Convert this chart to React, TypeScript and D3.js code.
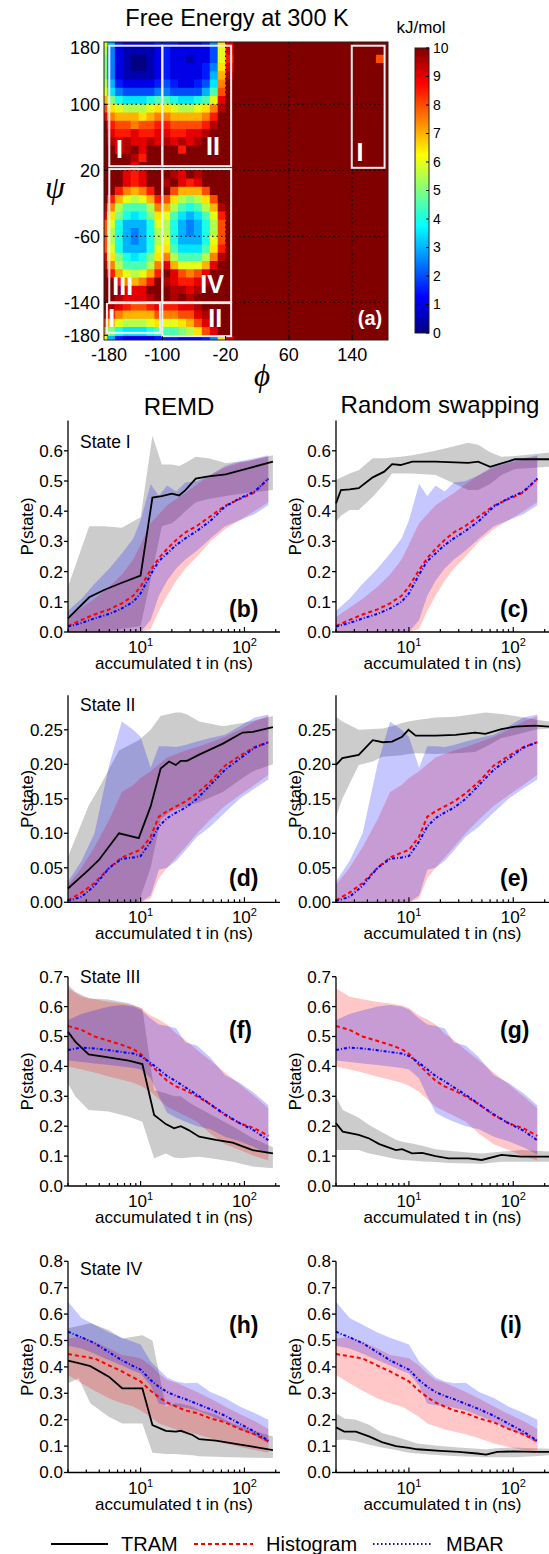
import React from 'react';
import * as d3 from 'd3';

const W = 549;
const H = 1554;
const SANS = '"Liberation Sans", Arial, Helvetica, sans-serif';

// ---------- free energy surface at 300 K (kJ/mol), 10 degree bins ----------
// rows: psi 180 -> -180, columns: phi -180 -> 180
// each character is one bin, value = index in FE_LEVELS / 2  ('0' = 0 ... 'k' = 10)
const FE_LEVELS = '0123456789abcdefghijk';
const FE_ROWS = [
  'c63222233322235dik' + 'kkkkkkkkkkkkkkkkkk',
  'b52111123222224cik' + 'kkkkkkkkkkkkkkkkkk',
  'a52100123221224chk' + 'kkkkkkkkkkkkkkkkkg',
  'a52100123222235dik' + 'kkkkkkkkkkkkkkkkkk',
  'a52111123222236ejk' + 'kkkkkkkkkkkkkkkkkk',
  'b63222234322347fkk' + 'kkkkkkkkkkkkkkkkkk',
  'c75444455444469gkk' + 'kkkkkkkkkkkkkkkkkk',
  'ea877789987789cikk' + 'kkkkkkkkkkkkkkkkkk',
  'gdcbbbcddcbbcdfjkk' + 'kkkkkkkkkkkkkkkkkk',
  'ifeeedeffeeeefhkkk' + 'kkkkkkkkkkkkkkkkkk',
  'khggfgghhgggghjkkk' + 'kkkkkkkkkkkkkkkkkk',
  'kihhihhiihhiijkkkk' + 'kkkkkkkkkkkkkkkkkk',
  'kjijiijijijijkkkkk' + 'kkkkkkkkkkkkkkkkkk',
  'kkijkikkkkhkkkkkkk' + 'kkkkkkkkkkkkkkkkkk',
  'kkkkjhkkkkkkkkkkkk' + 'kkkkkkkkkkkkkkkkkk',
  'kkkkikkkkkkkkkkkkk' + 'kkkkkkkkkkkkkkkkkk',
  'kkkihikkkjikjkkkkk' + 'kkkkkkkkkkkkkkkkkk',
  'kkkihikkjkihikkkkk' + 'kkkkkkkkkkkkkkkkkk',
  'kkhfefhkkgeeegkkkk' + 'kkkkkkkkkkkkkkkkkk',
  'khecbcehgdbabdgkkk' + 'kkkkkkkkkkkkkkkkkk',
  'jfb999bfeb989bejkk' + 'kkkkkkkkkkkkkkkkkk',
  'ida878adc97679chkk' + 'kkkkkkkkkkkkkkkkkk',
  'gc86668cb86568bgkk' + 'kkkkkkkkkkkkkkkkkk',
  'gb86568bb86568bgkk' + 'kkkkkkkkkkkkkkkkkk',
  'gb86568bc86668cgkk' + 'kkkkkkkkkkkkkkkkkk',
  'gc86668cd97779dhkk' + 'kkkkkkkkkkkkkkkkkk',
  'ida878adfb999bfjkk' + 'kkkkkkkkkkkkkkkkkk',
  'jfb999bfieccceikkk' + 'kkkkkkkkkkkkkkkkkk',
  'khecbcehkigfgikkkk' + 'kkkkkkkkkkkkkkkkkk',
  'kkhfefhkjihhijkkkk' + 'kkkkkkkkkkkkkkkkkk',
  'kkkiiikkkjjijkkkkk' + 'kkkkkkkkkkkkkkkkkk',
  'kkjiiijkkjkjkkkkkk' + 'kkkkkkkkkkkkkkkkkk',
  'kjihgghihhiijkkkkk' + 'kkkkkkkkkkkkkkkkkk',
  'jhfeeeegffggijkkkk' + 'kkkkkkkkkkkkkkkkkk',
  'gecbbbcdccdegikkkk' + 'kkkkkkkkkkkkkkkkkk',
  'ea87778999abdgikkk' + 'kkkkkkkkkkkkkkkkkk',
];

const PHI_TICKS = [-180, -100, -20, 60, 140];
const PSI_TICKS = [180, 100, 20, -60, -140, -180];
const PHI_GRID = [-100, -20, 60, 140];
const PSI_GRID = [100, 20, -60, -140];
const CBAR_TICKS = [0, 1, 2, 3, 4, 5, 6, 7, 8, 9, 10];

// state regions drawn as white boxes (phi range, psi range)
const BOX_PHI = [[-167, -100], [-100, -13], [-167, -100], [-100, -13], [-170, -103], [-100, -13], [139.5, 181]];
const BOX_PSI = [[25, 171], [25, 171], [-140, 21.5], [-140, 21.5], [-177, -141], [-181, -141], [23, 171]];
const BOX_LABELS = ['I', 'II', 'III', 'IV', 'I', 'II', 'I'];
const BOX_LABEL_PHI = [-154, -36, -150, -37, -164, -33, 150];
const BOX_LABEL_PSI = [34.5, 38.5, -131, -129, -169.5, -169.5, 31.5];

// ---------- convergence curves ----------
const T_EST = [2, 2.7, 3.6, 5, 6.6, 8.5, 10, 12.5, 15, 18, 22, 27, 35, 47, 65, 90, 125, 170];

// State I
const HIST_I = [.02, .04, .058, .075, .095, .12, .15, .205, .245, .275, .305, .33, .352, .383, .418, .44, .462, .507];
const HIST_I_LO = [0, 0, 0, 0, 0, 0, 0, .01, .07, .12, .17, .21, .25, .3, .34, .37, .4, .43];
const HIST_I_HI = [.05, .08, .11, .15, .19, .24, .29, .36, .39, .42, .44, .46, .49, .52, .545, .56, .57, .58];
const MBAR_I = [.018, .03, .045, .06, .078, .1, .128, .19, .235, .26, .288, .31, .335, .368, .415, .443, .465, .508];
const MBAR_I_LO = [0, 0, 0, 0, 0, 0, 0, .04, .12, .17, .21, .24, .27, .31, .35, .37, .39, .42];
const MBAR_I_HI = [.07, .11, .16, .21, .26, .31, .37, .49, .45, .485, .465, .495, .5, .52, .55, .565, .575, .585];
const REMD_I_T = [2, 3.2, 4.5, 6.6, 10, 13, 16, 20, 23.5, 27, 34, 45, 66, 104, 188];
const REMD_I = [.045, .115, .14, .163, .187, .445, .45, .458, .452, .47, .508, .515, .522, .54, .564];
const REMD_I_LO = [0, 0, 0, .01, .02, .2, .35, .36, .38, .4, .43, .44, .45, .46, .47];
const REMD_I_HI = [.15, .35, .35, .345, .38, .65, .555, .555, .55, .56, .58, .575, .56, .565, .585];
const RS_I_T = [2, 2.23, 2.7, 3.3, 4.5, 5.8, 6.9, 8.3, 10.8, 18, 37, 46, 60, 77, 104, 220];
const RS_I = [.426, .47, .472, .476, .512, .531, .556, .553, .564, .564, .56, .564, .547, .558, .572, .572];
const RS_I_LO = [.365, .385, .404, .404, .448, .49, .525, .525, .525, .52, .47, .47, .49, .52, .54, .547];
const RS_I_HI = [.503, .512, .525, .536, .575, .575, .578, .58, .585, .6, .627, .62, .595, .58, .583, .594];

// State II
const HIST_II = [.003, .014, .028, .05, .065, .072, .076, .095, .124, .132, .139, .146, .158, .175, .198, .212, .225, .232];
const HIST_II_LO = [0, 0, 0, 0, 0, 0, 0, .005, .035, .05, .065, .08, .1, .12, .14, .155, .17, .185];
const HIST_II_HI = [.025, .05, .08, .12, .16, .17, .18, .19, .2, .21, .215, .22, .225, .232, .24, .25, .262, .27];
const MBAR_II = [.002, .008, .024, .05, .063, .065, .067, .088, .11, .122, .13, .137, .15, .17, .192, .208, .224, .232];
const MBAR_II_LO = [0, 0, 0, 0, 0, 0, 0, .01, .047, .05, .06, .075, .095, .11, .13, .15, .165, .178];
const MBAR_II_HI = [.03, .06, .1, .2, .262, .25, .24, .195, .226, .226, .225, .228, .233, .238, .243, .255, .268, .272];
const REMD_II_T = [2, 3.16, 3.95, 6.2, 9.6, 12.5, 15.6, 18.8, 21.8, 24.4, 28, 36.7, 62, 96, 121, 188];
const REMD_II = [.02, .047, .061, .1, .093, .139, .194, .204, .199, .205, .205, .214, .23, .246, .247, .254];
const REMD_II_LO = [0, 0, 0, 0, 0, .05, .12, .13, .135, .137, .14, .145, .16, .18, .19, .2];
const REMD_II_HI = [.066, .14, .165, .22, .235, .25, .27, .273, .275, .275, .272, .262, .255, .26, .263, .27];
const RS_II_T = [2, 2.3, 3.3, 4.5, 5.6, 6.9, 8.6, 9.9, 11.6, 18, 28, 43, 54, 77, 104, 161, 220];
const RS_II = [.199, .209, .2135, .235, .232, .233, .24, .25, .2415, .2415, .2425, .246, .244, .251, .2546, .256, .2546];
const RS_II_LO = [.124, .15, .199, .204, .211, .212, .213, .215, .216, .215, .216, .218, .225, .238, .2425, .25, .252];
const RS_II_HI = [.269, .262, .25, .251, .252, .255, .26, .262, .264, .268, .269, .273, .275, .273, .27, .265, .262];

// State III
const HIST_III = [.535, .522, .5, .485, .472, .458, .442, .405, .378, .352, .333, .32, .3, .273, .237, .21, .193, .168];
const HIST_III_LO = [.4, .39, .38, .365, .355, .345, .335, .315, .29, .265, .25, .235, .215, .175, .14, .12, .1, .085];
const HIST_III_HI = [.661, .633, .625, .615, .61, .604, .595, .57, .557, .54, .51, .488, .455, .42, .38, .34, .3, .26];
const MBAR_III = [.455, .463, .46, .454, .448, .443, .435, .412, .39, .368, .35, .33, .305, .273, .24, .21, .185, .153];
const MBAR_III_LO = [.42, .415, .41, .405, .4, .395, .39, .36, .3, .245, .228, .215, .2, .19, .165, .15, .13, .105];
const MBAR_III_HI = [.555, .575, .588, .6, .605, .6, .59, .56, .54, .535, .528, .48, .47, .43, .37, .345, .31, .27];
const REMD_III_T = [2, 2.35, 3.16, 4.9, 7.7, 10.4, 13.5, 17.5, 21, 24.4, 29, 36.7, 53, 77, 120, 188];
const REMD_III = [.516, .483, .44, .43, .419, .408, .2375, .207, .193, .2, .187, .165, .154, .145, .12, .109];
const REMD_III_LO = [.343, .3, .254, .249, .232, .215, .0925, .109, .095, .0925, .095, .098, .09, .081, .065, .059];
const REMD_III_HI = [.672, .65, .628, .624, .611, .594, .32, .31, .3, .3, .28, .26, .23, .2, .16, .13];
const RS_III_T = [2, 2.32, 3.3, 4.16, 5.2, 7.5, 8.6, 10.7, 13.4, 18, 24, 37, 50, 77, 120, 161, 220];
const RS_III = [.21, .182, .171, .159, .14, .12, .123, .109, .111, .1, .0925, .0925, .087, .104, .098, .098, .098];
const RS_III_LO = [.12, .12, .12, .109, .102, .09, .087, .085, .082, .08, .077, .075, .074, .081, .081, .081, .081];
const RS_III_HI = [.299, .254, .228, .204, .185, .155, .148, .142, .135, .123, .118, .112, .109, .115, .12, .118, .115];

// State IV
const HIST_IV = [.449, .44, .432, .405, .383, .36, .345, .31, .285, .265, .25, .235, .225, .205, .19, .165, .145, .118];
const HIST_IV_LO = [.369, .338, .31, .28, .262, .25, .235, .21, .186, .175, .163, .155, .145, .13, .11, .097, .085, .075];
const HIST_IV_HI = [.508, .514, .495, .47, .445, .438, .433, .405, .375, .35, .34, .325, .305, .28, .25, .222, .195, .165];
const MBAR_IV = [.533, .512, .49, .455, .425, .403, .39, .35, .325, .305, .29, .278, .26, .24, .215, .185, .155, .12];
const MBAR_IV_LO = [.48, .47, .45, .425, .405, .385, .375, .33, .26, .255, .25, .245, .235, .215, .19, .165, .14, .11];
const MBAR_IV_HI = [.647, .585, .56, .53, .51, .495, .485, .42, .39, .36, .345, .338, .34, .305, .282, .25, .225, .2];
const REMD_IV_T = [2, 2.53, 3.28, 4.94, 6.65, 10.4, 13, 17.5, 21.8, 24.4, 31.6, 36.7, 53, 77, 120, 188];
const REMD_IV = [.424, .414, .403, .363, .319, .319, .18, .158, .155, .158, .142, .126, .121, .11, .098, .085];
const REMD_IV_LO = [.338, .357, .262, .211, .186, .186, .075, .07, .07, .068, .065, .062, .06, .058, .056, .055];
const REMD_IV_HI = [.546, .555, .565, .54, .508, .52, .5, .25, .262, .26, .25, .237, .22, .186, .16, .136];
const RS_IV_T = [2, 2.4, 3.1, 4.2, 5.5, 7.5, 10, 12, 20, 30, 45, 55, 70, 100, 160, 220];
const RS_IV = [.171, .155, .155, .136, .115, .1, .093, .088, .082, .078, .072, .068, .078, .08, .078, .078];
const RS_IV_LO = [.123, .125, .118, .105, .095, .085, .075, .072, .065, .062, .06, .058, .058, .058, .062, .065];
const RS_IV_HI = [.224, .205, .2, .18, .15, .135, .12, .11, .1, .095, .09, .088, .092, .095, .092, .09];

const STATE_NAMES = ['State I', 'State II', 'State III', 'State IV'];
const PANEL_LETTERS = [['(b)', '(c)'], ['(d)', '(e)'], ['(f)', '(g)'], ['(h)', '(i)']];
const Y_TICKS = [
  [0, 0.1, 0.2, 0.3, 0.4, 0.5, 0.6],
  [0, 0.05, 0.1, 0.15, 0.2, 0.25],
  [0, 0.1, 0.2, 0.3, 0.4, 0.5, 0.6, 0.7],
  [0, 0.1, 0.2, 0.3, 0.4, 0.5, 0.6, 0.7, 0.8],
];
const Y_MAX = [0.7, 0.3, 0.7, 0.8];
const X_DOMAIN = [2, 220];
const LEGEND = ['TRAM', 'Histogram', 'MBAR'];

// ---------- build series tables ----------
type Band = { t: number[]; m: number[]; lo: number[]; hi: number[] };
const band = (t: number[], m: number[], lo: number[], hi: number[]): Band => ({ t, m, lo, hi });

const HIST = [
  band(T_EST, HIST_I, HIST_I_LO, HIST_I_HI),
  band(T_EST, HIST_II, HIST_II_LO, HIST_II_HI),
  band(T_EST, HIST_III, HIST_III_LO, HIST_III_HI),
  band(T_EST, HIST_IV, HIST_IV_LO, HIST_IV_HI),
];
const MBAR = [
  band(T_EST, MBAR_I, MBAR_I_LO, MBAR_I_HI),
  band(T_EST, MBAR_II, MBAR_II_LO, MBAR_II_HI),
  band(T_EST, MBAR_III, MBAR_III_LO, MBAR_III_HI),
  band(T_EST, MBAR_IV, MBAR_IV_LO, MBAR_IV_HI),
];
const TRAM = [
  [band(REMD_I_T, REMD_I, REMD_I_LO, REMD_I_HI), band(RS_I_T, RS_I, RS_I_LO, RS_I_HI)],
  [band(REMD_II_T, REMD_II, REMD_II_LO, REMD_II_HI), band(RS_II_T, RS_II, RS_II_LO, RS_II_HI)],
  [band(REMD_III_T, REMD_III, REMD_III_LO, REMD_III_HI), band(RS_III_T, RS_III, RS_III_LO, RS_III_HI)],
  [band(REMD_IV_T, REMD_IV, REMD_IV_LO, REMD_IV_HI), band(RS_IV_T, RS_IV, RS_IV_LO, RS_IV_HI)],
];

const STYLES = {
  tram: { stroke: '#000', dash: undefined as string | undefined, fill: 'rgba(110,110,110,0.35)' },
  hist: { stroke: '#ff0000', dash: '4,3', fill: 'rgba(255,0,0,0.22)' },
  mbar: { stroke: '#0000ff', dash: '3,2,1,2', fill: 'rgba(0,0,255,0.22)' },
};

// matlab style jet
function jet(t: number) {
  const c = (v: number) => Math.round(255 * Math.max(0, Math.min(1, 1.5 - Math.abs(v))));
  return `rgb(${c(4 * t - 3)},${c(4 * t - 2)},${c(4 * t - 1)})`;
}
const feColor = d3.scaleSequential(jet).domain([0, 10]);
const feValue = (ch: string) => FE_LEVELS.indexOf(ch) / 2;

// ---------- layout ----------
const COL_RANGES = [[68, 280], [336, 549]];
const ROW_RANGES = [[632, 420.6], [902.3, 695.3], [1186, 976.7], [1472.5, 1261.3]];

function Heatmap() {
  const px = d3.scaleLinear().domain([-173.7, 185.3]).range([104, 388]);
  const py = d3.scaleLinear().domain([-185.7, 175.5]).range([340, 42]);
  const cells: JSX.Element[] = [];
  FE_ROWS.forEach((row, i) => {
    const shifts = i === 0 ? [0, -360] : [0];
    shifts.forEach((s) => {
      row.split('').forEach((ch, j) => {
        const x0 = px(-180 + 10 * j);
        const x1 = px(-170 + 10 * j);
        const y0 = py(180 - 10 * i + s);
        const y1 = py(170 - 10 * i + s);
        cells.push(
          <rect key={`${i}-${j}-${s}`} x={x0} y={y0} width={x1 - x0 + 0.6} height={y1 - y0 + 0.6}
            fill={feColor(feValue(ch))} />
        );
      });
    });
  });
  const cb = d3.scaleLinear().domain([0, 10]).range([333, 48]);
  const gradStops = [0, 0.125, 0.375, 0.625, 0.875, 1];
  return (
    <g>
      <defs>
        <clipPath id="heatClip"><rect x={104} y={42} width={284} height={298} /></clipPath>
        <linearGradient id="jetGrad" x1="0" y1="1" x2="0" y2="0">
          {gradStops.map((s) => <stop key={s} offset={s} stopColor={jet(s)} />)}
        </linearGradient>
      </defs>
      <text x={237} y={26} textAnchor="middle" fontSize={23.5} fontFamily={SANS}>Free Energy at 300 K</text>
      <rect x={104} y={42} width={284} height={298} fill={feColor(10)} />
      <g clipPath="url(#heatClip)">{cells}</g>
      {PHI_GRID.map((v) => (
        <line key={`gx${v}`} x1={px(v)} x2={px(v)} y1={42} y2={340} stroke="#000" strokeWidth={1} strokeDasharray="1.5,3" />
      ))}
      {PSI_GRID.map((v) => (
        <line key={`gy${v}`} x1={104} x2={388} y1={py(v)} y2={py(v)} stroke="#000" strokeWidth={1} strokeDasharray="1.5,3" />
      ))}
      {BOX_PHI.map((p, k) => {
        const x0 = px(p[0]);
        const x1 = px(p[1]);
        const y0 = py(BOX_PSI[k][1]);
        const y1 = py(BOX_PSI[k][0]);
        return <rect key={`b${k}`} x={x0} y={y0} width={x1 - x0} height={y1 - y0} fill="none" stroke="#eeeeee" strokeWidth={2} />;
      })}
      {BOX_LABELS.map((l, k) => (
        <text key={`bl${k}`} x={px(BOX_LABEL_PHI[k])} y={py(BOX_LABEL_PSI[k])} textAnchor="middle"
          fontSize={25} fontWeight="bold" fill="#fff" fontFamily={SANS}>{l}</text>
      ))}
      <text x={px(162.5)} y={py(-167.5)} textAnchor="middle" fontSize={20} fontWeight="bold" fill="#fff" fontFamily={SANS}>(a)</text>
      <rect x={104} y={42} width={284} height={298} fill="none" stroke="#222" strokeWidth={1} />
      {PHI_TICKS.map((v) => {
        const x = Math.max(px(v), 109);
        return (
          <g key={`tx${v}`}>
            {px(v) >= 104 && <line x1={px(v)} x2={px(v)} y1={340} y2={336} stroke="#000" />}
            <text x={x} y={361} textAnchor="middle" fontSize={18} fontFamily={SANS}>{v}</text>
          </g>
        );
      })}
      {PSI_TICKS.map((v) => {
        const y = Math.min(Math.max(py(v), 48), 336);
        return (
          <g key={`ty${v}`}>
            {py(v) >= 42 && py(v) <= 340 && <line x1={104} x2={108} y1={py(v)} y2={py(v)} stroke="#000" />}
            <text x={100} y={y} dy="0.35em" textAnchor="end" fontSize={18} fontFamily={SANS}>{v}</text>
          </g>
        );
      })}
      <text x={55} y={198} textAnchor="middle" fontSize={32} fontStyle="italic" fontFamily='"Liberation Serif", "DejaVu Serif", serif'>ψ</text>
      <text x={262} y={386} textAnchor="middle" fontSize={31} fontStyle="italic" fontFamily='"Liberation Serif", "DejaVu Serif", serif'>ϕ</text>
      {/* colour bar */}
      <text x={421} y={33} textAnchor="middle" fontSize={17} fontFamily={SANS}>kJ/mol</text>
      <rect x={415} y={48} width={14} height={285} fill="url(#jetGrad)" stroke="#222" strokeWidth={1} />
      {CBAR_TICKS.map((v) => (
        <g key={`cb${v}`}>
          <line x1={426} x2={429} y1={cb(v)} y2={cb(v)} stroke="#000" />
          <text x={433} y={cb(v)} dy="0.35em" fontSize={14} fontFamily={SANS}>{v}</text>
        </g>
      ))}
    </g>
  );
}

function Panel({ r, c }: { r: number; c: number }) {
  const x = d3.scaleLog().domain(X_DOMAIN).range(COL_RANGES[c]);
  const y = d3.scaleLinear().domain([0, Y_MAX[r]]).range(ROW_RANGES[r]);
  const areaOf = (b: Band) =>
    d3.area<number>().x((t) => x(t)).y0((_, i) => y(b.lo[i])).y1((_, i) => y(b.hi[i]))(b.t) || '';
  const lineOf = (b: Band) => d3.line<number>().x((t) => x(t)).y((_, i) => y(b.m[i]))(b.t) || '';
  const tram = TRAM[r][c];
  const hist = HIST[r];
  const mbar = MBAR[r];
  const [xl, xr] = COL_RANGES[c];
  const [yb, yt] = ROW_RANGES[r];
  const fmt = r === 1 ? d3.format('.2f') : d3.format('.1f');
  const xticks = x.ticks();
  const letterX = c === 0 ? 229 : 500;
  const letterY = [617, 886, 1038, 1333][r];
  return (
    <g>
      <path d={areaOf(tram)} fill={STYLES.tram.fill} />
      <path d={areaOf(hist)} fill={STYLES.hist.fill} />
      <path d={areaOf(mbar)} fill={STYLES.mbar.fill} />
      <path d={lineOf(tram)} fill="none" stroke={STYLES.tram.stroke} strokeWidth={1.8} />
      <path d={lineOf(hist)} fill="none" stroke={STYLES.hist.stroke} strokeWidth={2} strokeDasharray={STYLES.hist.dash} />
      <path d={lineOf(mbar)} fill="none" stroke={STYLES.mbar.stroke} strokeWidth={2} strokeDasharray={STYLES.mbar.dash} />
      {/* axes */}
      <line x1={xl} x2={xl} y1={yb} y2={yt} stroke="#000" strokeWidth={1.3} />
      <line x1={xl} x2={xr} y1={yb} y2={yb} stroke="#000" strokeWidth={1.3} />
      {Y_TICKS[r].map((v) => (
        <g key={`y${v}`}>
          <line x1={xl - 4} x2={xl} y1={y(v)} y2={y(v)} stroke="#000" strokeWidth={1.3} />
          <text x={xl - 5} y={y(v)} dy="0.35em" textAnchor="end" fontSize={17} fontFamily={SANS}>{fmt(v)}</text>
        </g>
      ))}
      {xticks.map((v) => {
        const major = Math.abs(Math.log10(v) - Math.round(Math.log10(v))) < 1e-9;
        return (
          <g key={`x${v}`}>
            <line x1={x(v)} x2={x(v)} y1={yb} y2={yb - (major ? 5 : 3)} stroke="#000" strokeWidth={1.2} />
            {major && (
              <text x={x(v)} y={yb + 21} textAnchor="middle" fontSize={17} fontFamily={SANS}>
                10<tspan dy={-7} fontSize={11}>{Math.round(Math.log10(v))}</tspan>
              </text>
            )}
          </g>
        );
      })}
      <text x={(xl + xr) / 2} y={yb + 37} textAnchor="middle" fontSize={17} fontFamily={SANS}>accumulated t in (ns)</text>
      <text transform={`translate(${c === 0 ? 27 : 295},${(yb + yt) / 2}) rotate(-90)`} dy="0.35em" textAnchor="middle"
        fontSize={16.5} fontFamily={SANS}>P(state)</text>
      {c === 0 && (
        <text x={80} y={[448, 711, 983, 1275][r]} fontSize={17.5} fontFamily={SANS}>{STATE_NAMES[r]}</text>
      )}
      <text x={letterX} y={letterY} fontSize={23} fontWeight="bold" fontFamily={SANS}>{PANEL_LETTERS[r][c]}</text>
    </g>
  );
}

function Legend() {
  const keys = ['tram', 'hist', 'mbar'] as const;
  const lx = [[51, 108], [194, 253], [373, 433]];
  return (
    <g>
      {keys.map((k, i) => (
        <g key={k}>
          <line x1={lx[i][0]} x2={lx[i][1]} y1={1544} y2={1544} stroke={STYLES[k].stroke}
            strokeWidth={2} strokeDasharray={k === 'mbar' ? '1.5,2.5' : STYLES[k].dash} />
          <text x={lx[i][1] + 13} y={1551} fontSize={20} fontFamily={SANS}>{LEGEND[i]}</text>
        </g>
      ))}
    </g>
  );
}

export default function App() {
  return (
    <svg width={W} height={H} style={{ position: 'absolute', left: 0, top: 0, background: '#fff' }}
      fontFamily={SANS}>
      <rect x={0} y={0} width={W} height={H} fill="#fff" />
      <Heatmap />
      <text x={179} y={415} textAnchor="middle" fontSize={24} fontFamily={SANS}>REMD</text>
      <text x={440} y={413} textAnchor="middle" fontSize={24} fontFamily={SANS}>Random swapping</text>
      {[0, 1, 2, 3].map((r) => (
        <g key={r}>
          <Panel r={r} c={0} />
          <Panel r={r} c={1} />
        </g>
      ))}
      <Legend />
    </svg>
  );
}
